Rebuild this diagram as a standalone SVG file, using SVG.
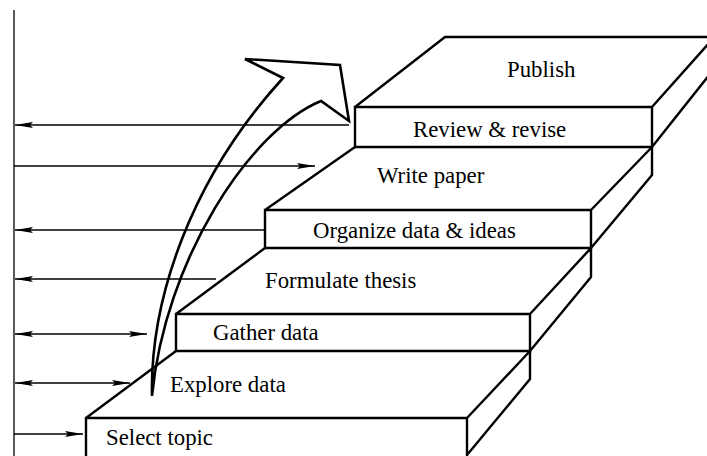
<svg xmlns="http://www.w3.org/2000/svg" width="707" height="456" viewBox="0 0 707 456">
<style>
.s{fill:none;stroke:#000;stroke-width:2.4;stroke-linejoin:miter}
.c{fill:none;stroke:#000;stroke-width:1.3}
.t{font-family:"Liberation Serif","Times New Roman",serif;font-size:22.8px;fill:#000}
.big{fill:none;stroke:#000;stroke-width:2.6;stroke-linejoin:miter}
</style>
<defs>
<marker id="ah" markerUnits="userSpaceOnUse" markerWidth="20" markerHeight="8" refX="18" refY="3" orient="auto-start-reverse">
<path d="M0,0 L18,3 L0,6 L3,3 z" fill="#000"/>
</marker>
</defs>
<rect width="707" height="456" fill="#fff"/>
<g id="axis"><line class="c" x1="14" y1="10" x2="14" y2="456"/></g>
<g id="select-topic">
<path class="s" d="M86,456 L86,418 L467,418 L467,456 M86,418 L176,351 M467,418 L530,351 M467,455 L530,379 L530,351"/>
<text class="t" x="106" y="445">Select topic</text>
</g>
<g id="explore-data">
<text class="t" x="170" y="392">Explore data</text>
</g>
<g id="gather-data">
<path class="s" d="M176,314 L530,314 L530,351 L176,351 Z M176,314 L265,248 M530,314 L591,248 M530,351 L591,277 L591,248"/>
<text class="t" x="213" y="340">Gather data</text>
</g>
<g id="formulate-thesis">
<text class="t" x="265" y="288">Formulate thesis</text>
</g>
<g id="organize">
<path class="s" d="M265,210 L591,210 L591,248 L265,248 Z M265,210 L355,147 M591,210 L652,147 M591,248 L652,175 L652,147"/>
<text class="t" x="313" y="238">Organize data &amp; ideas</text>
</g>
<g id="write-paper">
<text class="t" x="377" y="182.5">Write paper</text>
</g>
<g id="review">
<path class="s" d="M355,107 L652,107 L652,147 L355,147 Z M355,107 L445,37 L710,37 M652,107 L710,42 M652,147 L710,74"/>
<text class="t" x="413" y="137">Review &amp; revise</text>
</g>
<g id="publish">
<text class="t" x="507" y="77">Publish</text>
</g>
<g id="connectors">
<line class="c" x1="349" y1="125" x2="15" y2="125" marker-end="url(#ah)"/>
<line class="c" x1="14" y1="166" x2="315" y2="166" marker-end="url(#ah)"/>
<line class="c" x1="265" y1="230" x2="15" y2="230" marker-end="url(#ah)"/>
<line class="c" x1="216" y1="279" x2="15" y2="279" marker-end="url(#ah)"/>
<line class="c" x1="15" y1="334" x2="147" y2="334" marker-start="url(#ah)" marker-end="url(#ah)"/>
<line class="c" x1="15" y1="383" x2="130" y2="383" marker-start="url(#ah)" marker-end="url(#ah)"/>
<line class="c" x1="14" y1="434" x2="83" y2="434" marker-end="url(#ah)"/>
</g>
<g id="progress-arrow">
<path class="big" d="M152,396 C150,300 190,180 283,78 L245,59 L340,65 L349,121 L321,101 C250,130 165,260 152,396 Z"/>
</g>
</svg>
